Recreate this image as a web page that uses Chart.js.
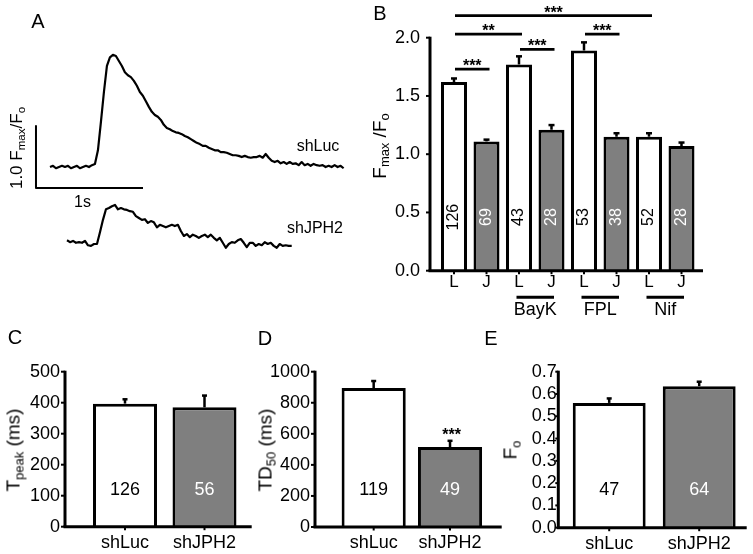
<!DOCTYPE html>
<html>
<head>
<meta charset="utf-8">
<script src="https://cdn.jsdelivr.net/npm/chart.js@4.4.1/dist/chart.umd.min.js"></script>
<style>
  body { margin: 0; background: #fff; }
  #fig { position: relative; width: 753px; height: 554px; overflow: hidden;
         font-family: "Liberation Sans", Arial, sans-serif; color: #000; }
  canvas { position: absolute; }
  .t { position: absolute; white-space: nowrap; line-height: 1; transform: translate(-50%, -50%); }
  .r { transform: translate(-50%, -50%) rotate(-90deg); }
  .t sub { font-size: 0.68em; vertical-align: -0.28em; line-height: 0; }
  .lt { font-size: 20px; }
</style>
</head>
<body>
<div id="fig">
  <canvas id="cA" width="360" height="300" style="left:0;top:0"></canvas>
  <canvas id="cB" width="393" height="330" style="left:360px;top:0"></canvas>
  <canvas id="cC" width="255" height="224" style="left:0;top:330px"></canvas>
  <canvas id="cD" width="255" height="224" style="left:250px;top:330px"></canvas>
  <canvas id="cE" width="253" height="224" style="left:500px;top:330px"></canvas>

  <div class="t lt" style="left:38px;top:21px">A</div>
  <div class="t lt" style="left:380px;top:13px">B</div>
  <div class="t lt" style="left:15px;top:337px">C</div>
  <div class="t lt" style="left:265px;top:338px">D</div>
  <div class="t lt" style="left:491px;top:338px">E</div>

  <div class="t" style="left:318px;top:145.5px;font-size:16px">shLuc</div>
  <div class="t" style="left:315px;top:227.5px;font-size:16px">shJPH2</div>
  <div class="t" style="left:82.5px;top:201.7px;font-size:16px">1s</div>
  <div class="t r" style="left:16px;top:147.5px;font-size:17px">1.0 F<sub>max</sub>/F<sub>o</sub></div>

  <div class="t r" style="left:379px;top:145.5px;font-size:19px">F<sub>max</sub> /F<sub>o</sub></div>
  <div class="t r" style="left:13px;top:450px;font-size:19px">T<sub>peak</sub> (ms)</div>
  <div class="t r" style="left:265px;top:450px;font-size:19px">TD<sub>50</sub> (ms)</div>
  <div class="t r" style="left:510px;top:450px;font-size:19px">F<sub>o</sub></div>
</div>

<script>
// ---- panel A: example transients (F/Fo, one sample every 28 ms)
const TRACE_DT = 0.028;
const LUC_T0 = 0;
const JPH2_T0 = 0.159;
const LUC_TRACE = [
  1.00,1.02,0.98,1.00,1.02,1.00,1.02,0.98,1.00,1.02,0.98,1.00,1.02,1.00,1.03,1.05,
  1.27,1.73,2.21,2.63,2.77,2.81,2.79,2.71,2.63,
  2.53,2.48,2.45,2.39,2.31,2.21,2.15,2.06,1.97,1.89,
  1.84,1.81,1.76,1.68,1.63,1.61,1.58,1.56,1.55,1.53,
  1.50,1.48,1.45,1.42,1.39,1.37,1.34,1.34,1.31,1.29,
  1.27,1.27,1.24,1.24,1.23,1.21,1.19,1.19,1.18,1.16,
  1.18,1.16,1.15,1.16,1.16,1.18,1.15,1.21,1.15,1.10,
  1.08,1.10,1.06,1.08,1.05,1.08,1.05,1.06,1.03,1.08,
  1.03,1.05,1.02,1.05,1.03,1.02,1.03,1.00,1.02,1.00,
  1.03,1.00,1.02,0.98
];
const JPH2_TRACE = [
  1.06,1.03,1.05,1.02,1.03,1.02,1.05,0.98,0.97,1.00,1.00,
  1.19,1.39,1.56,1.58,1.61,1.63,1.56,1.58,1.56,1.55,
  1.53,1.52,1.45,1.42,1.39,1.40,1.34,1.37,1.35,1.27,
  1.31,1.29,1.27,1.29,1.31,1.29,1.31,1.21,1.13,1.16,
  1.11,1.15,1.13,1.10,1.13,1.15,1.11,1.15,1.10,1.06,
  1.10,1.02,0.94,1.00,1.03,1.02,1.06,1.08,1.02,0.95,
  1.02,1.02,0.97,1.00,0.98,1.03,1.00,1.02,0.97,0.94,
  1.00,0.97,0.98,0.97,0.97
];
const SCALE_T = 1;     // 1 s
const SCALE_F = 1.0;   // 1.0 Fmax/Fo

// ---- panel B: Fmax/Fo
const B_LABELS = ["L", "J", "L", "J", "L", "J", "L", "J"];
const B_MEAN = [1.62, 1.11, 1.77, 1.21, 1.89, 1.15, 1.15, 1.07];
const B_SEM  = [0.03, 0.015, 0.07, 0.04, 0.07, 0.03, 0.03, 0.03];
const B_N    = [126, 69, 43, 28, 53, 38, 52, 28];
const B_TICKS = [0, 0.5, 1.0, 1.5, 2.0];
const B_SIG = [
  { a: 0, b: 1, y: 1.73, t: "***" },
  { a: 0, b: 2, y: 2.03, t: "**" },
  { a: 2, b: 3, y: 1.90, t: "***" },
  { a: 4, b: 5, y: 2.03, t: "***" },
  { a: 0, b: 6, y: 2.19, t: "***" }
];
const B_GROUPS = [
  { a: 2, b: 3, t: "BayK" },
  { a: 4, b: 5, t: "FPL" },
  { a: 6, b: 7, t: "Nif" }
];

// ---- panels C, D, E
const CDE_LABELS = ["shLuc", "shJPH2"];
const C_MEAN = [397, 385], C_SEM = [14, 38], C_N = [126, 56];
const C_TICKS = [0, 100, 200, 300, 400, 500];
const D_MEAN = [895, 515], D_SEM = [45, 40], D_N = [119, 49];
const D_TICKS = [0, 200, 400, 600, 800, 1000];
const D_SIG = [{ i: 1, y: 620, t: "***" }];
const E_MEAN = [0.56, 0.635], E_SEM = [0.02, 0.02], E_N = [47, 64];
const E_TICKS = [0, 0.1, 0.2, 0.3, 0.4, 0.5, 0.6, 0.7];

const FONT = "'Liberation Sans', Arial, sans-serif";
const FILL = ["#ffffff", "#7f7f7f"];
const TXT  = ["#000000", "#ffffff"];

// ------------------------------------------------ panel A
(function drawTraces() {
  const JPH2_SHIFT = -1.242;          // vertical offset of the lower trace
  const SB_T = -0.131, SB_F = 0.661;  // scale bar corner
  const luc = LUC_TRACE.map((v, i) => ({ x: LUC_T0 + i * TRACE_DT, y: v }));
  const jph = JPH2_TRACE.map((v, i) => ({ x: JPH2_T0 + i * TRACE_DT, y: v + JPH2_SHIFT }));
  const bar = [{ x: SB_T, y: SB_F + SCALE_F }, { x: SB_T, y: SB_F }, { x: SB_T + SCALE_T, y: SB_F }];
  const ds = (data, w) => ({ data, borderColor: "#000", borderWidth: w, pointRadius: 0,
                              tension: 0, fill: false, borderJoinStyle: "round", borderCapStyle: "butt" });
  new Chart(document.getElementById("cA"), {
    type: "line",
    data: { datasets: [ds(luc, 2.2), ds(jph, 2.2), ds(bar, 2)] },
    options: {
      responsive: false, animation: false,
      layout: { padding: 0 },
      plugins: { legend: { display: false }, tooltip: { enabled: false } },
      scales: {
        x: { type: "linear", display: false, min: -0.4673, max: 2.8972 },
        y: { type: "linear", display: false, min: -1.145, max: 3.694 }
      }
    }
  });
})();

// ------------------------------------------------ bar panels
const PANELS = {};   // per-canvas settings for the plugin (kept out of chart options)

function line(ctx, x1, y1, x2, y2) {
  ctx.beginPath(); ctx.moveTo(x1, y1); ctx.lineTo(x2, y2); ctx.stroke();
}
function stars(ctx, t, x, y) {
  ctx.font = "bold 16px " + FONT;
  ctx.textAlign = "center"; ctx.textBaseline = "alphabetic";
  ctx.fillText(t, x, y + 9);
}

const panelPlugin = {
  id: "panel",
  afterDatasetsDraw(chart) {
    const p = PANELS[chart.canvas.id];
    if (!p) return;
    const { g, d } = p;
    const ctx = chart.ctx, ys = chart.scales.y, a = chart.chartArea;
    const bars = chart.getDatasetMeta(0).data;
    ctx.save();
    ctx.strokeStyle = "#000"; ctx.fillStyle = "#000";
    // error bars
    ctx.lineWidth = 2.5;
    bars.forEach((b, i) => {
      const y0 = ys.getPixelForValue(d.mean[i]);
      const y1 = ys.getPixelForValue(d.mean[i] + d.sem[i]);
      line(ctx, b.x, y0, b.x, y1);
      line(ctx, b.x - g.cap / 2, y1, b.x + g.cap / 2, y1);
    });
    // axes
    ctx.lineWidth = 3;
    line(ctx, g.axisX, a.top - 1, g.axisX, a.bottom);
    line(ctx, g.axisX - 1.5, a.bottom, g.axisEnd, a.bottom);
    ctx.lineWidth = 2;
    ys.ticks.forEach(t => {
      const y = ys.getPixelForValue(t.value);
      line(ctx, g.axisX - g.tick, y, g.axisX, y);
    });
    bars.forEach(b => line(ctx, b.x, a.bottom, b.x, a.bottom + 3.5));
    // n inside the bars
    ctx.font = d.nFont + "px " + FONT;
    ctx.textAlign = "center"; ctx.textBaseline = "middle";
    bars.forEach((b, i) => {
      ctx.fillStyle = TXT[i % 2];
      const y = ys.getPixelForValue(d.nY);
      ctx.save(); ctx.translate(b.x, y);
      if (d.nRotate) ctx.rotate(-Math.PI / 2);
      ctx.fillText(String(d.n[i]), 0, 0);
      ctx.restore();
    });
    ctx.fillStyle = "#000"; ctx.strokeStyle = "#000";
    if (d.extra) d.extra(ctx, bars, ys, a);
    ctx.restore();
  }
};

function barPanel(id, g, d) {
  const cv = document.getElementById(id);
  PANELS[id] = { g, d };
  return new Chart(cv, {
    type: "bar",
    data: {
      labels: d.labels,
      datasets: [{
        data: d.mean,
        backgroundColor: d.labels.map((_, i) => FILL[i % 2]),
        borderColor: "#000", borderWidth: 3, borderSkipped: "bottom",
        barPercentage: g.barPct, categoryPercentage: 1
      }]
    },
    options: {
      responsive: false, animation: false,
      layout: { padding: { left: 0, top: g.top, right: cv.width - g.catRight, bottom: 0 } },
      plugins: { legend: { display: false }, tooltip: { enabled: false } },
      scales: {
        x: {
          grid: { display: false, drawTicks: false }, border: { display: false },
          ticks: { autoSkip: false, maxRotation: 0, minRotation: 0, padding: g.xPad,
                   color: "#000", font: { family: FONT, size: d.xFont } },
          afterFit(s) { s.height = cv.height - g.bottom; s.paddingLeft = 0; s.paddingRight = 0; }
        },
        y: {
          min: d.ticks[0], max: d.ticks[d.ticks.length - 1],
          grid: { display: false, drawTicks: false }, border: { display: false },
          afterBuildTicks(s) { s.ticks = d.ticks.map(v => ({ value: v })); },
          ticks: { autoSkip: false, padding: g.catLeft - g.labelRight, color: "#000",
                   font: { family: FONT, size: 18 }, callback: v => d.fmt(v) },
          afterFit(s) { s.width = g.catLeft; s.paddingTop = 0; s.paddingBottom = 0; }
        }
      }
    },
    plugins: [panelPlugin]
  });
}

barPanel("cB",
  { axisX: 70, catLeft: 77.75, catRight: 337.75, axisEnd: 343, top: 37.7, bottom: 270.7,
    labelRight: 60, barPct: 0.8, cap: 6, tick: 4, xPad: 1.8 },
  { labels: B_LABELS, mean: B_MEAN, sem: B_SEM, n: B_N, ticks: B_TICKS, fmt: v => v.toFixed(1),
    nY: 0.46, nRotate: true, nFont: 16, xFont: 17,
    extra(ctx, bars, ys, a) {
      ctx.lineWidth = 2.7;
      B_SIG.forEach(s => {
        const x1 = bars[s.a].x + 1, x2 = bars[s.b].x + 3, y = ys.getPixelForValue(s.y);
        line(ctx, x1, y, x2, y);
        stars(ctx, s.t, (x1 + x2) / 2, y - 7);
      });
      ctx.lineWidth = 3;
      ctx.font = "18px " + FONT;
      ctx.textAlign = "center"; ctx.textBaseline = "middle";
      B_GROUPS.forEach(gr => {
        const x1 = bars[gr.a].x - 2.5, x2 = bars[gr.b].x + 2.5, y = a.bottom + 26.6;
        line(ctx, x1, y, x2, y);
        ctx.fillText(gr.t, (x1 + x2) / 2, y + 13);
      });
    } });

barPanel("cC",
  { axisX: 65, catLeft: 85.25, catRight: 244.25, axisEnd: 251.7, top: 41.7, bottom: 196.7,
    labelRight: 60, barPct: 0.805, cap: 5, tick: 4, xPad: 5.2 },
  { labels: CDE_LABELS, mean: C_MEAN, sem: C_SEM, n: C_N, ticks: C_TICKS, fmt: v => String(v),
    nY: 118, nFont: 18, xFont: 18 });

barPanel("cD",
  { axisX: 65, catLeft: 85.5, catRight: 238.2, axisEnd: 251.7, top: 41.7, bottom: 197,
    labelRight: 60, barPct: 0.84, cap: 5, tick: 4, xPad: 5.2 },
  { labels: CDE_LABELS, mean: D_MEAN, sem: D_SEM, n: D_N, ticks: D_TICKS, fmt: v => String(v),
    nY: 240, nFont: 18, xFont: 18,
    extra(ctx, bars, ys) {
      D_SIG.forEach(s => stars(ctx, s.t, bars[s.i].x + 1.5, ys.getPixelForValue(s.y)));
    } });

barPanel("cE",
  { axisX: 58.3, catLeft: 64.2, catRight: 244.2, axisEnd: 246.7, top: 41.7, bottom: 197.7,
    labelRight: 56.7, barPct: 0.81, cap: 5, tick: 3, xPad: 5.2 },
  { labels: CDE_LABELS, mean: E_MEAN, sem: E_SEM, n: E_N, ticks: E_TICKS, fmt: v => v.toFixed(1),
    nY: 0.169, nFont: 18, xFont: 18 });
</script>
</body>
</html>
